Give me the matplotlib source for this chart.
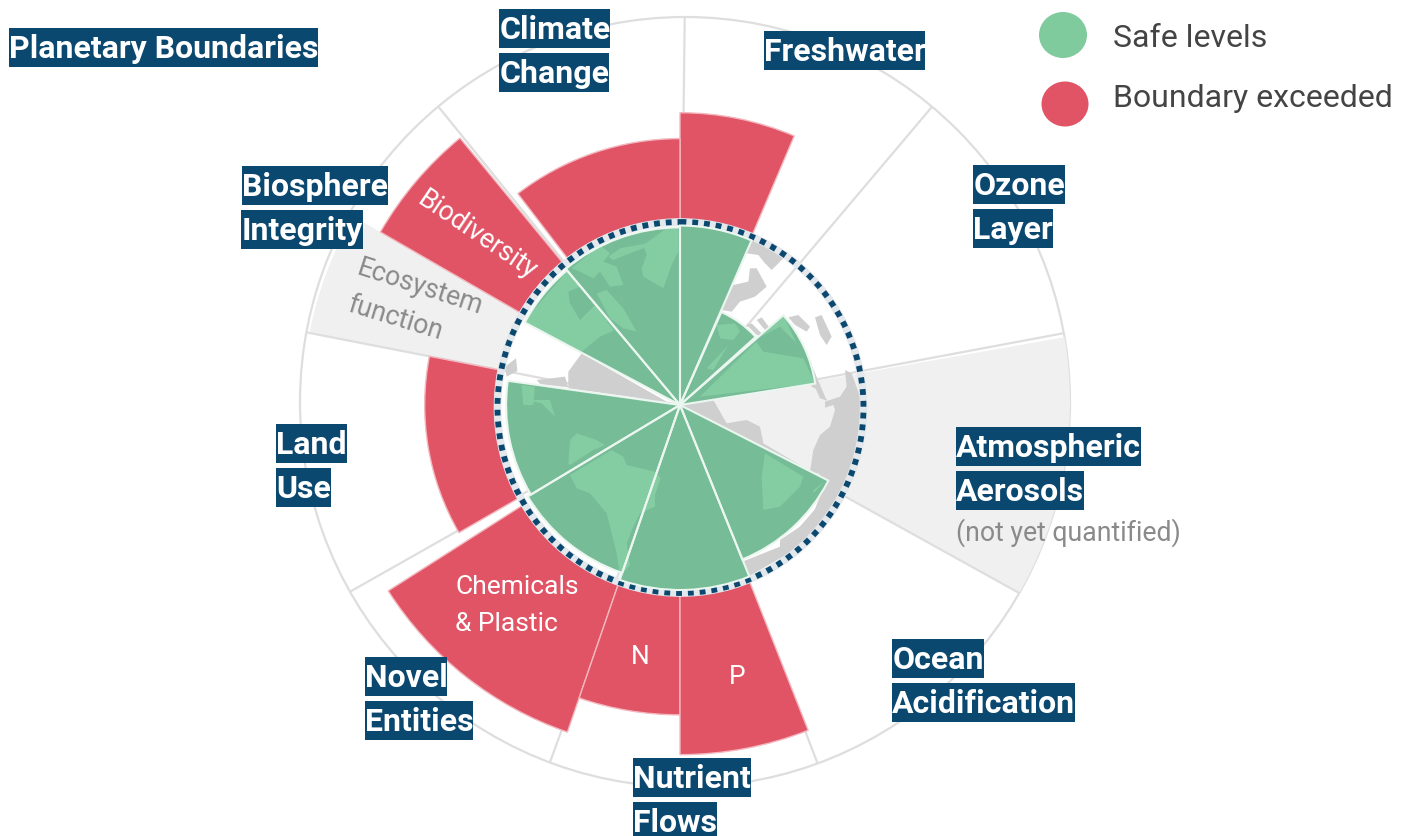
import numpy as np
import matplotlib
matplotlib.use("Agg")
import matplotlib.pyplot as plt
from matplotlib.patches import Polygon, Circle, Ellipse, Rectangle
from matplotlib.transforms import Affine2D

plt.rcParams['font.family'] = ['Roboto', 'DejaVu Sans']

# Angles in degrees clockwise from north, radii where the planetary boundary = 1
safe_start = [0, 24, 49, 117, 158, 199, 239, 298, 320]
safe_end = [23.5, 48, 81, 158, 199, 239, 278, 320, 360]
safe_value = [0.97, 0.55, 0.74, 0.90, 1.0, 0.96, 0.94, 0.95, 0.96]

over_names = ['Freshwater', 'Climate', 'Biodiversity', 'Land', 'Chemicals', 'N', 'P']
over_start = [0, 322.5, 300, 240, 199, 180, 158.5]
over_end = [23, 360, 320.5, 281, 237.5, 199, 180]
over_value = [1.58, 1.44, 1.87, 1.38, 1.87, 1.675, 1.89]

unknown_start = [80, 281]
unknown_end = [119, 300]
unknown_bottom = [0.0, 1.0]
unknown_value = [2.15, 2.04]

spoke_angles = [0.7, 40.2, 79.4, 119, 159, 200, 240.5, 281, 321]

GREEN = '#84CCA2'
DARK = '#76BC96'
RED = '#E05466'
GRAY = '#CFCFCF'
FILL = '#F0F0F0'
NAVY = '#0B4870'
LINE = '#DEDEDE'

W, H = 1408, 836
fig = plt.figure(figsize=(W / 100, H / 100), dpi=100, facecolor='white')
pix = Affine2D().scale(1, -1).translate(0, H)


def crop(x0, y0):
    return lambda pts: [(x0 + x / 3, y0 + y / 3) for x, y in pts]


zr, zt, zl, z2 = crop(780, 340), crop(700, 230), crop(500, 225), crop(480, 400)

land = [
    zt([(140, 40), (170, 25), (250, 85), (215, 120), (195, 100), (175, 75), (140, 70)]),
    zt([(65, 240), (100, 165), (145, 155), (150, 115), (170, 115), (200, 170), (165, 200), (120, 215), (95, 245)]),
    zt([(140, 285), (155, 280), (195, 320), (170, 315)]),
    zt([(170, 270), (185, 262), (210, 295), (195, 300)]),
    zt([(265, 262), (295, 255), (330, 290), (320, 305), (285, 285)]),
    zt([(345, 262), (365, 255), (395, 320), (380, 345), (360, 315)]),
    zt([(310, 345), (335, 400), (338, 440), (355, 480), (335, 470), (325, 420)]),
    zr([(95, 75), (135, 170), (142, 182), (120, 175), (100, 130)]),
    zr([(195, 90), (215, 100), (240, 170), (248, 250), (235, 330), (210, 420), (155, 525), (75, 590), (0, 628), (0, 600),
        (60, 560), (120, 490), (140, 425), (115, 400), (90, 395), (100, 330), (120, 285), (150, 260), (165, 210),
        (160, 195), (135, 203), (135, 185), (180, 170), (200, 140)]),
    z2([(787, 485), (900, 440), (1000, 340), (1037, 245), (1100, 250), (1000, 420), (900, 475), (805, 530)]),
    zl([(205, 440), (245, 385), (500, 530), (205, 490)]),
    zl([(110, 465), (195, 455), (205, 487), (120, 477)]),
    zl([(48, 400), (52, 438), (20, 455), (15, 425)]),
    z2([(605, 10), (640, 0), (700, 0), (740, 70), (800, 60), (840, 80), (850, 130), (960, 195), (900, 180), (600, 20)]),
]
light = [
    zt([(0, 500), (250, 255), (345, 460)]),
    zl([(70, 290), (205, 135), (345, 320), (245, 385)]),
    zl([(430, 60), (500, 10), (535, 10), (535, 80), (515, 120), (490, 190), (430, 155), (425, 130), (440, 90)]),
    zl([(215, 130), (300, 60), (330, 85), (310, 110), (350, 125), (370, 180), (330, 185), (300, 140), (280, 160), (240, 140)]),
    zl([(290, 205), (320, 195), (370, 250), (410, 320), (370, 310), (330, 280)]),
    zl([(360, 70), (440, 55), (430, 70), (390, 85), (340, 105), (325, 95)]),
    zl([(65, 480), (105, 485), (100, 540), (70, 540)]),
    zt([(50, 285), (105, 280), (120, 305), (100, 330), (60, 325)]),
    zt([(20, 415), (85, 345), (40, 420)]),
    z2([(140, 0), (210, 0), (225, 50), (185, 10)]),
    z2([(265, 190), (270, 120), (290, 100), (350, 120), (375, 135), (340, 150), (270, 195)]),
    z2([(270, 225), (395, 150), (430, 170), (440, 195), (525, 215), (542, 235), (525, 285), (525, 320), (480, 340), (460, 380),
        (440, 430), (450, 495), (420, 530), (410, 460), (380, 340), (330, 280), (290, 265)]),
    z2([(855, 160), (970, 230), (960, 260), (930, 290), (900, 320), (850, 330), (845, 230)]),
    z2([(1000, 270), (1035, 245), (1000, 280)]),
]
dark_over = [
    zt([(165, 330), (240, 290), (290, 340), (310, 385), (250, 375), (190, 365)]),
    zl([(205, 200), (240, 185), (285, 240), (240, 285), (210, 235)]),
    zl([(245, 380), (300, 335), (345, 315), (530, 525), (500, 530)]),
]

# base layer, pixel coordinates
base = fig.add_axes([0, 0, 1, 1], zorder=1)
base.set_xlim(0, W)
base.set_ylim(H, 0)
base.axis('off')
outer = Circle((685, 402), 385, fill=False, ec=LINE, lw=1.6)
base.add_patch(outer)

# polar layer
cx, cy, unit = 680, 405, 185
rmax = 2.5
size = rmax * unit
ax = fig.add_axes([(cx - size) / W, (H - cy - size) / H, 2 * size / W, 2 * size / H], projection='polar', zorder=2)
ax.set_theta_zero_location('N')
ax.set_theta_direction(-1)
ax.set_ylim(0, rmax)
ax.axis('off')
ax.patch.set_alpha(0)


def sector(start, end, value, bottom=0.0, **kw):
    th0, th1 = np.radians(start), np.radians(end)
    return ax.bar((th0 + th1) / 2, value - bottom, width=th1 - th0, bottom=bottom, align='center', **kw)[0]


def solid(start, end, value, **kw):
    th = np.radians(np.linspace(start, end, 80))
    return ax.fill(np.r_[0, th], np.r_[0, np.full(80, value)], **kw)[0]


disc = Circle((685, 402), 385, transform=pix)
for s, e, v, b in zip(unknown_start, unknown_end, unknown_value, unknown_bottom):
    sector(s, e, v, b, color=FILL, lw=0, zorder=1).set_clip_path(disc)
for a in spoke_angles:
    ln, = ax.plot([np.radians(a)] * 2, [0, 400 / unit], color=LINE, lw=1.6, zorder=2, solid_capstyle='butt')
    ln.set_clip_path(disc)
for pts in land:
    ax.add_patch(Polygon(pts, closed=True, fc=GRAY, ec='none', transform=pix, zorder=3, clip_on=False))
for s, e, v in zip(over_start, over_end, over_value):
    sector(s, e, v, 1.0, color=RED, ec='#F3B7BE', lw=1.0, zorder=4)
ax.add_patch(Ellipse((680.5, 407.5), 366, 371, fill=False, ec='#E3E8EC', lw=5.5, transform=pix, zorder=5, clip_on=False))
ax.add_patch(Ellipse((680.5, 407.5), 366, 371, fill=False, ec=NAVY, lw=4.2, ls=(0, (1.0, 1.02)), transform=pix, zorder=6, clip_on=False))
for s, e, v in zip(safe_start, safe_end, safe_value):
    wedge = solid(s, e, v, color=DARK, lw=0, zorder=7)
    for pts, col, z in [(p, GREEN, 8) for p in light] + [(p, DARK, 9) for p in dark_over]:
        poly = Polygon(pts, closed=True, fc=col, ec='none', transform=pix, zorder=z)
        ax.add_patch(poly)
        poly.set_clip_path(wedge)
    sector(s, e, v, facecolor='none', edgecolor='#EAF6EF', lw=1.5, zorder=10)

# top layer, text
top = fig.add_axes([0, 0, 1, 1], zorder=3)
top.set_xlim(0, W)
top.set_ylim(H, 0)
top.axis('off')
top.patch.set_alpha(0)

boxes = [
    ('Planetary Boundaries', 9, 318, 28),
    ('Climate', 499, 610, 9), ('Change', 499, 609, 53),
    ('Freshwater', 764, 925, 31),
    ('Ozone', 973, 1065, 165), ('Layer', 973, 1053, 209),
    ('Biosphere', 242, 388, 166), ('Integrity', 241, 363, 210),
    ('Atmospheric', 956, 1141, 427), ('Aerosols', 956, 1084, 471),
    ('Land', 276, 347, 424), ('Use', 276, 331, 468),
    ('Ocean', 892, 984, 639), ('Acidification', 892, 1075, 683),
    ('Novel', 365, 447, 657), ('Entities', 365, 473, 701),
    ('Nutrient', 633, 751, 758), ('Flows', 633, 717, 802),
]
for label, x0, x1, y0 in boxes:
    top.add_patch(Rectangle((x0, y0), x1 - x0, 39, fc=NAVY, ec='none'))
    top.text(x0 + 0.2, y0 + 30, label, color='white', fontsize=23, fontweight='bold', ha='left', va='baseline')

top.text(956, 541, '(not yet quantified)', color='#8A8A8A', fontsize=19.2, va='baseline')
top.text(420, 287, 'Ecosystem', color='#8A8A8A', fontsize=19.2, rotation=-18, ha='center', va='center', rotation_mode='anchor')
top.text(395, 318, 'function', color='#8A8A8A', fontsize=19.2, rotation=-17, ha='center', va='center', rotation_mode='anchor')
top.text(477, 235, 'Biodiversity', color='white', fontsize=19.2, rotation=-34, ha='center', va='center', rotation_mode='anchor')
top.text(517, 587, 'Chemicals', color='white', fontsize=19, ha='center', va='center')
top.text(506, 624, '& Plastic', color='white', fontsize=19, ha='center', va='center')
top.text(640, 657, 'N', color='white', fontsize=19, ha='center', va='center')
top.text(737, 677, 'P', color='white', fontsize=19, ha='center', va='center')

top.add_patch(Ellipse((1063, 35), 48, 46, fc='#80CB9E', ec='none'))
top.add_patch(Ellipse((1065, 104), 47, 45, fc=RED, ec='none'))
top.text(1113, 47, 'Safe levels', color='#444444', fontsize=23, va='baseline')
top.text(1113, 107, 'Boundary exceeded', color='#444444', fontsize=23, va='baseline')

fig.savefig('out.png', dpi=100, facecolor='white')
